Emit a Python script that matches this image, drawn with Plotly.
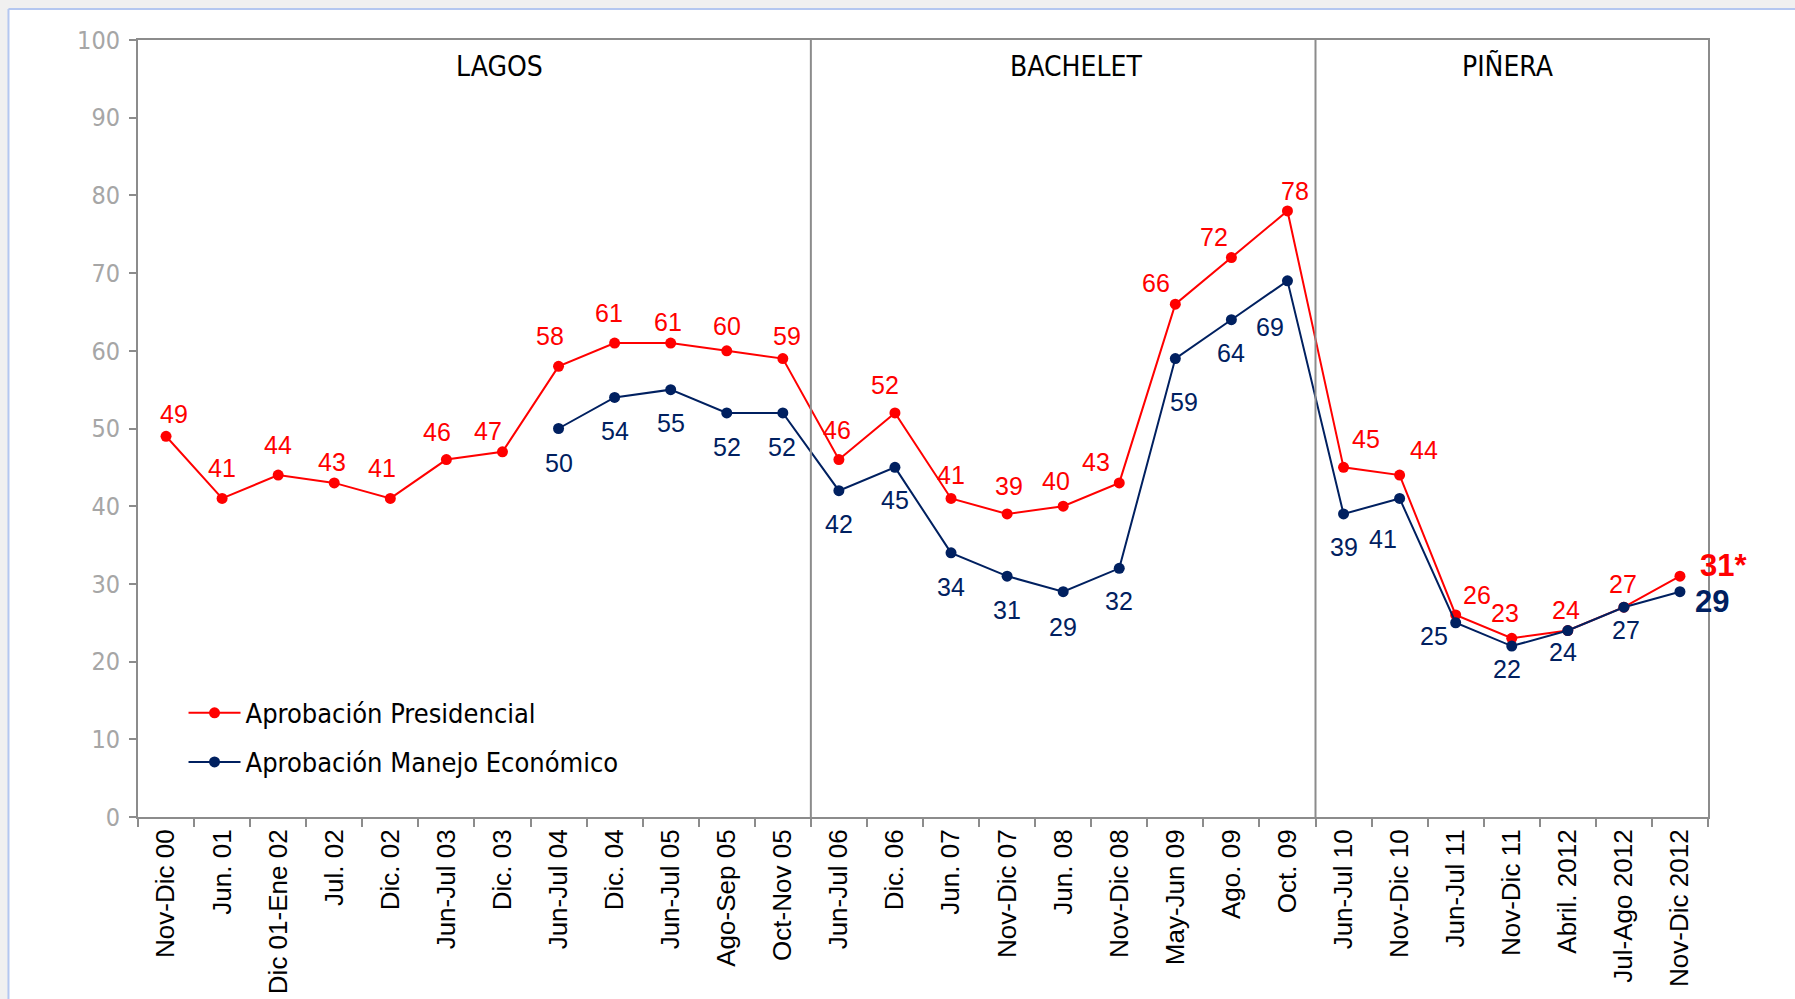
import plotly.graph_objects as go

# periods (x categories)
periods = ["Nov-Dic 00", "Jun. 01", "Dic 01-Ene 02", "Jul. 02", "Dic. 02", "Jun-Jul 03",
           "Dic. 03", "Jun-Jul 04", "Dic. 04", "Jun-Jul 05", "Ago-Sep 05", "Oct-Nov 05",
           "Jun-Jul 06", "Dic. 06", "Jun. 07", "Nov-Dic 07", "Jun. 08", "Nov-Dic 08",
           "May-Jun 09", "Ago. 09", "Oct. 09",
           "Jun-Jul 10", "Nov-Dic 10", "Jun-Jul 11", "Nov-Dic 11", "Abril. 2012",
           "Jul-Ago 2012", "Nov-Dic 2012"]

aprob_presidencial = [49, 41, 44, 43, 41, 46, 47, 58, 61, 61, 60, 59,
                      46, 52, 41, 39, 40, 43, 66, 72, 78,
                      45, 44, 26, 23, 24, 27, 31]
aprob_economico = [None, None, None, None, None, None, None, 50, 54, 55, 52, 52,
                   42, 45, 34, 31, 29, 32, 59, 64, 69,
                   39, 41, 25, 22, 24, 27, 29]

gobiernos = ["LAGOS", "BACHELET", "PIÑERA"]
gobierno_len = [12, 9, 7]

RED = "#ff0000"
NAVY = "#002060"
AXIS = "#8c8c8c"
NARROW = "Liberation Sans Narrow, Arial Narrow, DejaVu Sans Condensed, sans-serif"
ARIAL = "Liberation Sans, Arial, sans-serif"

# label offsets in pixels (style only)
red_dx = [8, 0, 0, -2, -8, -9, -14, -9, -6, -3, 0, 4, -2, -10, 0, 2, -7, -23, -19, -17, 8, 22, 24, 21, -7, -2, -1, 44]
red_dy = [22, 30, 30, 21, 30, 28, 21, 30, 30, 21, 25, 23, 30, 28, 23, 28, 25, 21, 21, 21, 20, 28, 25, 20, 25, 21, 23, 11]
blue_dx = [0] * 7 + [0, 0, 0, 0, -1, 0, 0, 0, 0, 0, 0, 9, 0, -17, 0, -17, -22, -5, -5, 2, 32]
blue_dy = [0] * 7 + [-34, -34, -33, -34, -34, -33, -33, -34, -34, -35, -33, -43, -33, -46, -33, -41, -13, -23, -21, -23, -10]

fig = go.Figure()

fig.add_trace(go.Scatter(x=periods, y=aprob_presidencial, mode="lines+markers",
                         name="Aprobación Presidencial", legendgroup="a",
                         line=dict(color=RED, width=2), marker=dict(color=RED, size=11)))
fig.add_trace(go.Scatter(x=periods, y=aprob_economico, mode="lines+markers",
                         name="Aprobación Manejo Económico", legendgroup="b",
                         line=dict(color=NAVY, width=2), marker=dict(color=NAVY, size=11)))

annotations = []
last = len(periods) - 1
for i, v in enumerate(aprob_presidencial):
    txt = str(v)
    font = dict(family=ARIAL, size=25, color=RED)
    if i == last:
        txt = "<b>%d*</b>" % v
        font = dict(family=ARIAL, size=31, color=RED)
    annotations.append(dict(x=i, y=v, xref="x", yref="y", text=txt, showarrow=False,
                            xshift=red_dx[i], yshift=red_dy[i], font=font))
for i, v in enumerate(aprob_economico):
    if v is None:
        continue
    txt = str(v)
    font = dict(family=ARIAL, size=25, color=NAVY)
    if i == last:
        txt = "<b>%d</b>" % v
        font = dict(family=ARIAL, size=31, color=NAVY)
    annotations.append(dict(x=i, y=v, xref="x", yref="y", text=txt, showarrow=False,
                            xshift=blue_dx[i], yshift=blue_dy[i], font=font))

# government sections
shapes = []
start = 0
title_shift = [25, 13, -4]
for k, (g, n) in enumerate(zip(gobiernos, gobierno_len)):
    annotations.append(dict(x=start + (n - 1) / 2, y=96.6, xref="x", yref="y", text=g,
                            showarrow=False, xshift=title_shift[k],
                            font=dict(family=NARROW, size=28, color="black")))
    if start > 0:
        shapes.append(dict(type="line", xref="x", yref="y", x0=start - 0.5, x1=start - 0.5,
                           y0=0, y1=100, line=dict(color=AXIS, width=2)))
    start += n

# screenshot frame (gray strip top, blue border left)
shapes.append(dict(type="rect", xref="paper", yref="paper", x0=-0.1, x1=1.1, y0=1.0399, y1=1.06,
                   fillcolor="#f0f0f0", line=dict(width=0), layer="below"))
shapes.append(dict(type="line", xref="paper", yref="paper", x0=-0.0825, x1=1.1, y0=1.0399, y1=1.0399,
                   line=dict(color="#b4c7f0", width=2)))
shapes.append(dict(type="rect", xref="paper", yref="paper", x0=-0.1, x1=-0.0825, y0=-0.3, y1=1.06,
                   fillcolor="#f0f0f0", line=dict(width=0), layer="below"))
shapes.append(dict(type="line", xref="paper", yref="paper", x0=-0.0825, x1=-0.0825, y0=-0.3, y1=1.0399,
                   line=dict(color="#b4c7f0", width=2)))

fig.update_layout(
    width=1795, height=999,
    margin=dict(l=138, r=87, t=40, b=182),
    paper_bgcolor="white", plot_bgcolor="white",
    showlegend=True,
    legend=dict(x=0.029, y=0.165, xanchor="left", yanchor="top", bgcolor="rgba(0,0,0,0)",
                font=dict(family=NARROW, size=27, color="black"), tracegroupgap=11,
                itemwidth=52),
    annotations=annotations,
    shapes=shapes,
)
fig.update_xaxes(type="category", categoryorder="array", categoryarray=periods,
                 range=[-0.5, len(periods) - 0.5], tickson="boundaries",
                 ticks="outside", ticklen=8, tickcolor=AXIS, tickwidth=2,
                 showline=True, linecolor=AXIS, linewidth=2, mirror=True,
                 tickangle=-90, showgrid=False, automargin=False,
                 tickfont=dict(family=ARIAL, size=26, color="black"))
fig.update_yaxes(range=[0, 100], dtick=10, ticks="outside", ticklen=7, tickcolor=AXIS,
                 tickwidth=2, showline=True, linecolor=AXIS, linewidth=2, mirror=True,
                 showgrid=False, zeroline=False, automargin=False, ticklabelstandoff=4,
                 tickfont=dict(family=NARROW, size=25, color="#a6a6a6"))

fig.write_html("out.html", config={"displayModeBar": False},
               post_script="document.body.style.margin='0';")
